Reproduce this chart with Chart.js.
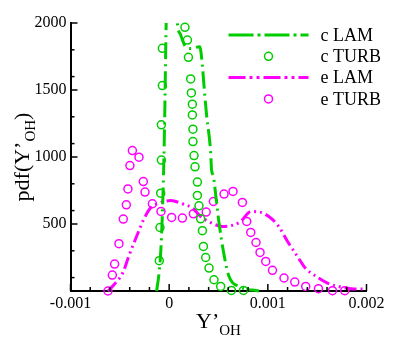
<!DOCTYPE html>
<html><head><meta charset="utf-8">
<script src="https://cdn.jsdelivr.net/npm/chart.js@4.4.0/dist/chart.umd.min.js"></script>
<style>html,body{margin:0;padding:0;background:#fff;}</style>
</head><body>
<canvas id="c" width="395" height="351"></canvas>
<script>
// ---- data ----
const seriesLabels = ['c LAM', 'c TURB', 'e LAM', 'e TURB'];

const cLamX = [-0.000127, -0.0001, -0.000086, -0.00007, -0.000053, -0.000043, -0.000033, -0.00002, 0.00003, 0.000083, 0.000117, 0.00016, 0.00022, 0.00031, 0.000337, 0.00035, 0.000377, 0.0004, 0.00042, 0.00043, 0.000448, 0.000461, 0.000505, 0.000556, 0.000606, 0.000708, 0.00091];
const cLamY = [0, 150, 285, 550, 1000, 1400, 1900, 2300, 2700, 2000, 1910, 1830, 1810, 1823, 1680, 1560, 1330, 1190, 1040, 900, 860, 785, 510, 270, 110, 34, 0];

const cTurbX = [-0.0001, -0.000093, -0.000086, -0.000079, -0.000079, -0.000069, -0.000069, 0.00016, 0.000185, 0.000195, 0.000218, 0.000225, 0.000235, 0.000235, 0.000241, 0.000241, 0.000252, 0.000262, 0.000286, 0.000286, 0.000302, 0.000319, 0.000337, 0.000347, 0.00037, 0.000404, 0.000454, 0.000522, 0.000631, 0.000753];
const cTurbY = [226, 474, 730, 977, 1240, 1533, 1811, 1968, 1873, 1744, 1583, 1478, 1394, 1314, 1208, 1115, 1011, 927, 813, 713, 636, 539, 450, 333, 250, 171, 84, 34, 4, 4];

const eLamX = [-0.00062, -0.00056, -0.00047, -0.00041, -0.00031, -0.00026, -0.00019, -0.0001, 0.000015, 0.000134, 0.000235, 0.00032, 0.00042, 0.00054, 0.00066, 0.000725, 0.00083, 0.00091, 0.00101, 0.00111, 0.0012, 0.0013, 0.00138, 0.00149, 0.0016, 0.00174, 0.00187, 0.00199];
const eLamY = [0, 47, 136, 258, 444, 531, 619, 656, 675, 651, 619, 556, 511, 482, 494, 519, 593, 590, 556, 482, 370, 258, 171, 109, 60, 30, 15, 15];

const eTurbX = [-0.00062, -0.000576, -0.000553, -0.000509, -0.000465, -0.000434, -0.000418, -0.000398, -0.000373, -0.000306, -0.000262, -0.000245, -0.00017, -0.000083, 0.000025, 0.000134, 0.000245, 0.000375, 0.000448, 0.000556, 0.000647, 0.000742, 0.000786, 0.000827, 0.00088, 0.000921, 0.000979, 0.001047, 0.001164, 0.001273, 0.001384, 0.001513, 0.001655, 0.00178];
const eTurbY = [0, 119, 201, 353, 537, 643, 762, 936, 1048, 999, 817, 738, 651, 594, 549, 544, 576, 589, 668, 723, 743, 661, 519, 437, 362, 288, 221, 154, 97, 67, 34, 17, 2, 2];

const xTickValues = [-0.001, 0, 0.001, 0.002];
const xTickLabels = ['-0.001', '0', '0.001', '0.002'];
const xMinorTicks = [-0.0008, -0.0006, -0.0004, -0.0002, 0.0002, 0.0004, 0.0006, 0.0008, 0.0012, 0.0014, 0.0016, 0.0018];
const yTickValues = [0, 500, 1000, 1500, 2000];
const yTickLabels = ['', '500', '1000', '1500', '2000'];
const yMinorTicks = [100, 300, 600, 800, 1100, 1300, 1600, 1800];

// ---- helpers ----
const pts = (xs, ys) => xs.map((x, i) => ({x: x, y: ys[i]}));
const GREEN = '#00cc00', MAGENTA = '#ff00ff';
const SERIF = '"Liberation Serif", "Times New Roman", serif';

const decor = {
  id: 'decor',
  afterDraw(chart) {
    const {ctx, chartArea: a, scales: {x, y}} = chart;
    ctx.save();
    ctx.strokeStyle = '#000';
    ctx.lineWidth = 1.5;
    const seg = (x1, y1, x2, y2) => { ctx.beginPath(); ctx.moveTo(x1, y1); ctx.lineTo(x2, y2); ctx.stroke(); };
    xTickValues.forEach(v => { const p = x.getPixelForValue(v); seg(p, a.bottom, p, a.bottom - 7); });
    xMinorTicks.forEach(v => { const p = x.getPixelForValue(v); seg(p, a.bottom, p, a.bottom - 4); });
    yTickValues.forEach(v => { const p = y.getPixelForValue(v); seg(a.left, p, a.left + 7, p); });
    yMinorTicks.forEach(v => { const p = y.getPixelForValue(v); seg(a.left, p, a.left + 4, p); });

    // axis titles with subscripts
    const title = (cx, cy, rot, parts) => {
      ctx.save();
      ctx.translate(cx, cy); ctx.rotate(rot);
      ctx.fillStyle = '#000'; ctx.textBaseline = 'alphabetic'; ctx.textAlign = 'left';
      let total = 0;
      parts.forEach(p => { ctx.font = p.size + 'px ' + SERIF; p.w = ctx.measureText(p.t).width; total += p.w; });
      let px = -total / 2;
      parts.forEach(p => { ctx.font = p.size + 'px ' + SERIF; ctx.fillText(p.t, px, p.dy); px += p.w; });
      ctx.restore();
    };
    title((a.left + a.right) / 2, 328, 0, [{t: 'Y’', size: 22, dy: 0}, {t: 'OH', size: 15, dy: 7}]);
    title(29, (a.top + a.bottom) / 2, -Math.PI / 2, [{t: 'pdf(Y’', size: 22, dy: 0}, {t: 'OH', size: 15, dy: 6}, {t: ')', size: 22, dy: 0}]);

    // legend
    const lx0 = a.right - 138, lx1 = a.right - 58, tx = a.right - 46;
    chart.data.datasets.forEach((ds, i) => {
      const ly = a.top + 12 + i * 21.3;
      if (ds.showLine) {
        ctx.save();
        ctx.strokeStyle = ds.borderColor; ctx.lineWidth = ds.borderWidth;
        ctx.setLineDash(ds.legendDash);
        seg(lx0, ly, lx1, ly);
        ctx.restore();
      } else {
        ctx.save();
        ctx.strokeStyle = ds.borderColor; ctx.lineWidth = ds.borderWidth;
        ctx.beginPath(); ctx.arc((lx0 + lx1) / 2, ly, ds.pointRadius, 0, Math.PI * 2); ctx.stroke();
        ctx.restore();
      }
      ctx.fillStyle = '#000'; ctx.font = '18px ' + SERIF; ctx.textBaseline = 'middle'; ctx.textAlign = 'left';
      ctx.fillText(ds.label, tx, ly + 1);
    });
    ctx.restore();
  }
};

new Chart(document.getElementById('c'), {
  type: 'scatter',
  data: {
    datasets: [
      {label: seriesLabels[0], data: pts(cLamX, cLamY), showLine: true, borderColor: GREEN, borderWidth: 3,
       borderDash: [17, 5, 2, 5], legendDash: [25, 4, 3, 4], pointRadius: 0, cubicInterpolationMode: 'monotone',
       clip: {left: 5, right: 5, top: 0, bottom: 5}},
      {label: seriesLabels[1], data: pts(cTurbX, cTurbY), showLine: false, borderColor: GREEN, backgroundColor: 'rgba(0,0,0,0)',
       borderWidth: 1.5, pointRadius: 4, pointStyle: 'circle', clip: 8},
      {label: seriesLabels[2], data: pts(eLamX, eLamY), showLine: true, borderColor: MAGENTA, borderWidth: 3,
       borderDash: [12, 4, 2, 4, 2, 4], legendDash: [17, 4, 3, 4, 3, 4], pointRadius: 0, cubicInterpolationMode: 'monotone',
       clip: 5},
      {label: seriesLabels[3], data: pts(eTurbX, eTurbY), showLine: false, borderColor: MAGENTA, backgroundColor: 'rgba(0,0,0,0)',
       borderWidth: 1.5, pointRadius: 4, pointStyle: 'circle', clip: 8}
    ]
  },
  options: {
    responsive: false,
    animation: false,
    events: [],
    layout: {padding: {left: 0, right: 28.5, top: 23, bottom: 0}},
    plugins: {legend: {display: false}, tooltip: {enabled: false}},
    scales: {
      x: {
        type: 'linear', min: -0.001, max: 0.002,
        afterBuildTicks: s => { s.ticks = xTickValues.map(v => ({value: v})); },
        afterFit: s => { s.height = 60; },
        grid: {display: false, drawTicks: false},
        border: {display: true, color: '#000', width: 2},
        ticks: {padding: 3, color: '#000', font: {family: SERIF, size: 16}, maxRotation: 0,
                callback: (v) => xTickLabels[xTickValues.findIndex(t => Math.abs(t - v) < 1e-9)]}
      },
      y: {
        type: 'linear', min: 0, max: 2000,
        afterBuildTicks: s => { s.ticks = yTickValues.map(v => ({value: v})); },
        afterFit: s => { s.width = 70.5; },
        grid: {display: false, drawTicks: false},
        border: {display: true, color: '#000', width: 2},
        ticks: {padding: 4, color: '#000', font: {family: SERIF, size: 16},
                callback: (v) => yTickLabels[yTickValues.indexOf(v)]}
      }
    }
  },
  plugins: [decor]
});
</script>
</body></html>
